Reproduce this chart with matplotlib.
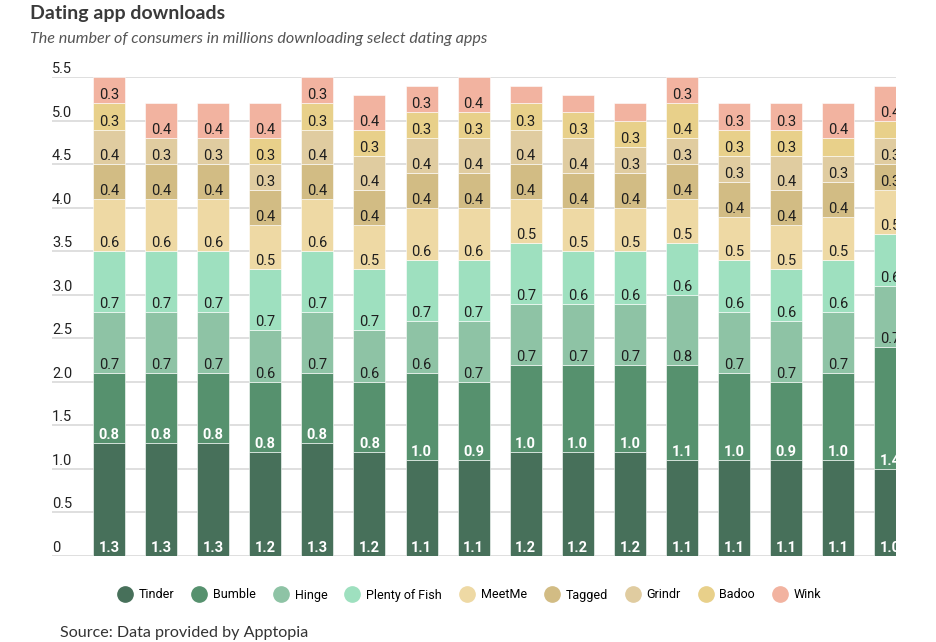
import numpy as np
import matplotlib.pyplot as plt
from matplotlib.lines import Line2D

plt.rcParams['font.family'] = ['Roboto', 'DejaVu Sans']

apps = ['Tinder', 'Bumble', 'Hinge', 'Plenty of Fish', 'MeetMe', 'Tagged', 'Grindr', 'Badoo', 'Wink']
colors = ['#47705a', '#56916e', '#8ec3a5', '#9ee0bf', '#eed9a4', '#d2bc84', '#e0cca0', '#e8d08a', '#f2b3a0']

# one value per bar (16 bars, the last one is cut off by the plot edge)
tinder = [1.3, 1.3, 1.3, 1.2, 1.3, 1.2, 1.1, 1.1, 1.2, 1.2, 1.2, 1.1, 1.1, 1.1, 1.1, 1.0]
bumble = [0.8, 0.8, 0.8, 0.8, 0.8, 0.8, 1.0, 0.9, 1.0, 1.0, 1.0, 1.1, 1.0, 0.9, 1.0, 1.4]
hinge = [0.7, 0.7, 0.7, 0.6, 0.7, 0.6, 0.6, 0.7, 0.7, 0.7, 0.7, 0.8, 0.7, 0.7, 0.7, 0.7]
plenty = [0.7, 0.7, 0.7, 0.7, 0.7, 0.7, 0.7, 0.7, 0.7, 0.6, 0.6, 0.6, 0.6, 0.6, 0.6, 0.6]
meetme = [0.6, 0.6, 0.6, 0.5, 0.6, 0.5, 0.6, 0.6, 0.5, 0.5, 0.5, 0.5, 0.5, 0.5, 0.5, 0.5]
tagged = [0.4, 0.4, 0.4, 0.4, 0.4, 0.4, 0.4, 0.4, 0.4, 0.4, 0.4, 0.4, 0.4, 0.4, 0.4, 0.3]
grindr = [0.4, 0.3, 0.3, 0.3, 0.4, 0.4, 0.4, 0.4, 0.4, 0.4, 0.3, 0.3, 0.3, 0.4, 0.3, 0.3]
badoo = [0.3, 0.0, 0.0, 0.3, 0.3, 0.3, 0.3, 0.3, 0.3, 0.3, 0.3, 0.4, 0.3, 0.3, 0.2, 0.2]
wink = [0.3, 0.4, 0.4, 0.4, 0.3, 0.4, 0.3, 0.4, 0.2, 0.2, 0.2, 0.3, 0.3, 0.3, 0.4, 0.4]
series = [tinder, bumble, hinge, plenty, meetme, tagged, grindr, badoo, wink]

yticks = [0, 0.5, 1.0, 1.5, 2.0, 2.5, 3.0, 3.5, 4.0, 4.5, 5.0, 5.5]
ytick_labels = ['0', '0.5', '1.0', '1.5', '2.0', '2.5', '3.0', '3.5', '4.0', '4.5', '5.0', '5.5']

fig = plt.figure(figsize=(9.36, 6.42), dpi=100)
ax = fig.add_axes([52/936, 1-556/642, (896-52)/936, (556-77.3)/642])

x = np.arange(len(tinder))
bottom = np.zeros(len(x))
for i, (name, vals) in enumerate(zip(apps, series)):
    vals = np.array(vals)
    ax.bar(x, vals, 0.615, bottom=bottom, color=colors[i], edgecolor='#ffffff',
           linewidth=0.4, zorder=2)
    for xi, b, v in zip(x, bottom, vals):
        if v < 0.25:
            continue
        white = i < 2
        ax.annotate(f'{v:.1f}', xy=(xi, b), xytext=(0, 4), textcoords='offset pixels',
                    ha='center', va='baseline', fontsize=10.5,
                    color='white' if white else '#1e1e1e',
                    fontweight='bold' if white else 'normal',
                    annotation_clip=False, clip_on=True, zorder=3)
    bottom += vals

ax.set_xlim(-1.095, 15.11)
ax.set_ylim(0, 5.5)
ax.set_yticks(yticks)
ax.set_yticklabels([])
ax.tick_params(length=0)
ax.set_xticks([])
ax.grid(axis='y', color='#dcdcdc', linewidth=1.3, zorder=0)
ax.set_axisbelow(True)
for s in ax.spines.values():
    s.set_visible(False)

for v, lab in zip(yticks, ytick_labels):
    ax.annotate(lab, xy=(0, v), xycoords=('axes fraction', 'data'), xytext=(0, 4),
                textcoords='offset pixels', ha='left', va='baseline', fontsize=10.5,
                color='#222222', annotation_clip=False)

fig.text(30/936, 1-14/642, 'Dating app downloads', fontsize=14, family='Lato',
         fontweight='bold', color='#3a3a3a', va='center', ha='left')
fig.text(30/936, 1-39/642, 'The number of consumers in millions downloading select dating apps',
         fontsize=11.6, family='Lato', style='italic', color='#555555', va='center', ha='left')
fig.text(60/936, 1-633/642, 'Source: Data provided by Apptopia', fontsize=11.6,
         family='Lato', color='#333333', va='center', ha='left')

handles = [Line2D([], [], marker='o', linestyle='none', markersize=11,
                  markerfacecolor=c, markeredgecolor=c) for c in colors]
fig.legend(handles, apps, loc='center', bbox_to_anchor=(470/936, 1-595/642), ncol=9,
           frameon=False, fontsize=9, handletextpad=0.6, columnspacing=1.5,
           handlelength=1.0)

fig.savefig('out.png', dpi=100)
